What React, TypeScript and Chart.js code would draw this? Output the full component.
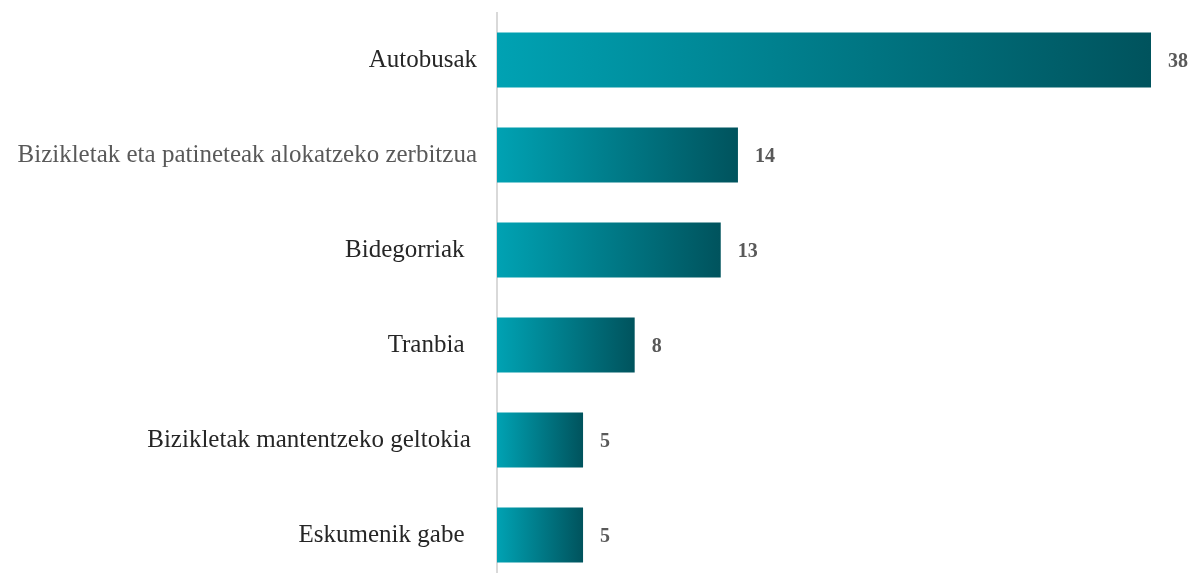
import React, { useEffect, useRef } from "react";
import { Chart, registerables } from "chart.js";

Chart.register(...registerables);

const categories = [
  "Autobusak",
  "Bizikletak eta patineteak alokatzeko zerbitzua",
  "Bidegorriak  ",
  "Tranbia  ",
  "Bizikletak mantentzeko geltokia ",
  "Eskumenik gabe  ",
];
const values = [38, 14, 13, 8, 5, 5];
const labelColors = ["#262626", "#595959", "#262626", "#262626", "#262626", "#262626"];

const gradStart = "#00a2b3";
const gradEnd = "#00535d";

const valueLabels = {
  id: "valueLabels",
  afterDatasetsDraw(chart: any) {
    const ctx = chart.ctx;
    const meta = chart.getDatasetMeta(0);
    ctx.save();
    ctx.font = "bold 20px 'Liberation Serif', serif";
    ctx.fillStyle = "#595959";
    ctx.textAlign = "left";
    ctx.textBaseline = "middle";
    meta.data.forEach((bar: any, i: number) => {
      ctx.fillText(String(values[i]), bar.x + 17, bar.y + 2);
    });
    ctx.restore();
  },
};

export default function App() {
  const ref = useRef<HTMLCanvasElement | null>(null);
  useEffect(() => {
    if (!ref.current) return;
    const chart = new Chart(ref.current, {
      type: "bar",
      data: {
        labels: categories,
        datasets: [
          {
            data: values,
            backgroundColor: (c: any) => {
              const ch = c.chart;
              if (!ch.chartArea || c.type !== "data") return gradStart;
              const xs = ch.scales.x;
              const x0 = xs.getPixelForValue(0);
              const x1 = xs.getPixelForValue(values[c.dataIndex]);
              const g = ch.ctx.createLinearGradient(x0, 0, x1, 0);
              g.addColorStop(0, gradStart);
              g.addColorStop(1, gradEnd);
              return g;
            },
            borderWidth: 0,
            categoryPercentage: 1,
            barPercentage: 0.58,
          },
        ],
      },
      options: {
        indexAxis: "y",
        animation: false,
        responsive: false,
        layout: { padding: { top: 12.5, bottom: 17.5, left: 0, right: 41 } },
        plugins: { legend: { display: false }, tooltip: { enabled: false } },
        scales: {
          x: { display: false, min: 0, max: 38 },
          y: {
            grid: { display: false },
            border: { display: true, color: "#d9d9d9", width: 2 },
            ticks: {
              color: labelColors,
              padding: 12,
              font: { family: "'Liberation Serif', serif", size: 25 },
            },
            afterFit: (s: any) => {
              s.width = 497;
              s.paddingTop = 0;
              s.paddingBottom = 0;
            },
          },
        },
      },
      plugins: [valueLabels],
    });
    return () => chart.destroy();
  }, []);
  return (
    <div style={{ position: "fixed", left: 0, top: 0, width: 1192, height: 600, background: "#fff" }}>
      <canvas ref={ref} width={1192} height={600} style={{ width: 1192, height: 600 }} />
    </div>
  );
}
